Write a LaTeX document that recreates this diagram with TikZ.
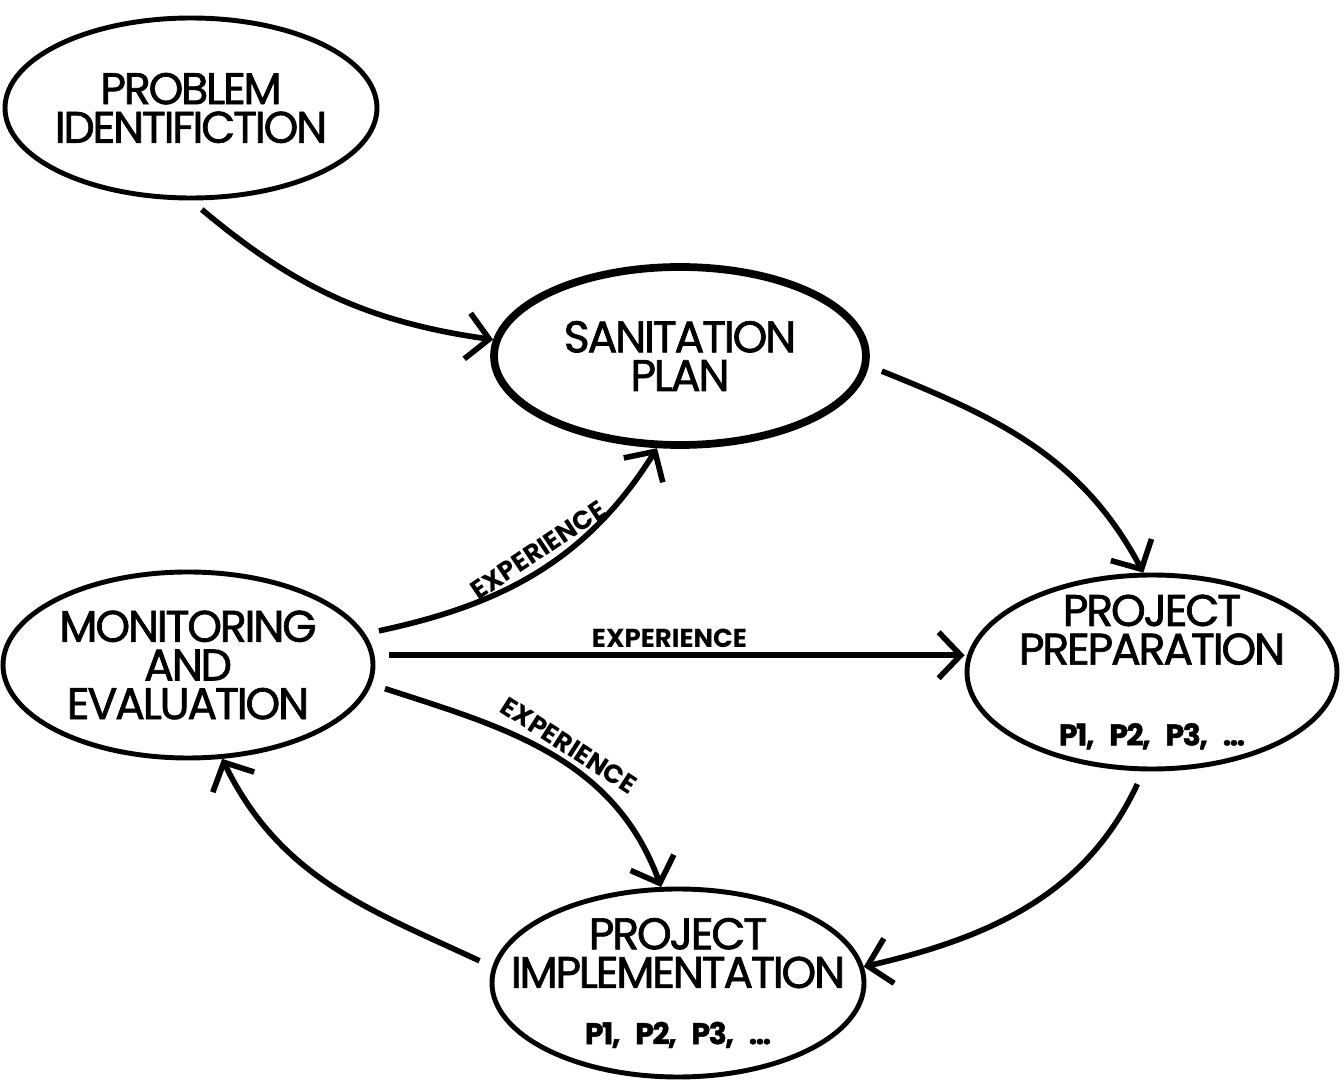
\documentclass[tikz,border=0pt]{standalone}
\usepackage{fontspec}
\setmainfont{Poppins}
\newfontfamily\etapafont{Poppins}[LetterSpace=-5, FakeBold=1.5]
\usetikzlibrary{shapes.geometric,arrows.meta}

\begin{document}
\begin{tikzpicture}[
    >={Straight Barb[length=2.2mm,width=4.6mm]},
    etapa/.style={ellipse, draw, line width=1.4pt, inner xsep=-1cm, inner ysep=-0.5cm,
      align=center, font=\etapafont\fontsize{12.6}{11}\selectfont},
    flecha/.style={->, line width=1.6pt, shorten <=4pt},
    exper/.style={font=\bfseries\fontsize{7.4}{8}\selectfont, sloped, above, inner sep=1.5pt},
    lista/.style={font=\bfseries\fontsize{8.5}{9}\selectfont}
  ]
  % Marco de la figura
  \useasboundingbox (0,0) rectangle (13.44,-10.80);

  % Etapas del ciclo
  \node[etapa, minimum width=3.72cm, minimum height=1.80cm] (ident) at (1.91,-1.08) {PROBLEM\\IDENTIFICTION};
  \node[etapa, minimum width=3.72cm, minimum height=1.78cm, line width=2.2pt] (plan) at (6.80,-3.56) {SANITATION\\PLAN};
  \node[etapa, minimum width=3.70cm, minimum height=1.86cm] (monit) at (1.88,-6.65) {MONITORING\\AND\\EVALUATION};
  \node[etapa, minimum width=3.70cm, minimum height=1.94cm] (prep) at (11.52,-6.72)
    {PROJECT\\PREPARATION\\[12pt]{\bfseries\fontsize{8.5}{9}\selectfont P1,\enspace P2,\enspace P3,\enspace ...}};
  \node[etapa, minimum width=3.72cm, minimum height=1.88cm] (impl) at (6.78,-9.83)
    {PROJECT\\IMPLEMENTATION\\[5pt]{\bfseries\fontsize{8.5}{9}\selectfont P1,\enspace P2,\enspace P3,\enspace ...}};

  % Ciclo principal
  \draw[flecha] (ident.south) to[out=-40,in=172] (plan.175);
  \draw[flecha] (plan.-3) to[out=-22,in=118] (prep.95);
  \draw[flecha] (prep.-95) to[out=-115,in=13] (impl.5);
  \draw[flecha] (impl.175) to[out=155,in=-64] (monit.-70);

  % Retroalimentacion (experiencia)
  \draw[flecha] (monit.10) to[out=12,in=-122] node[exper,pos=0.55] {EXPERIENCE} (plan.-104);
  \draw[flecha] (monit.3) -- node[exper,pos=0.5] {EXPERIENCE} (monit.3 -| prep.west);
  \draw[flecha] (monit.-6) to[out=-18,in=110] node[exper,pos=0.54] {EXPERIENCE} (impl.100);
\end{tikzpicture}
\end{document}
